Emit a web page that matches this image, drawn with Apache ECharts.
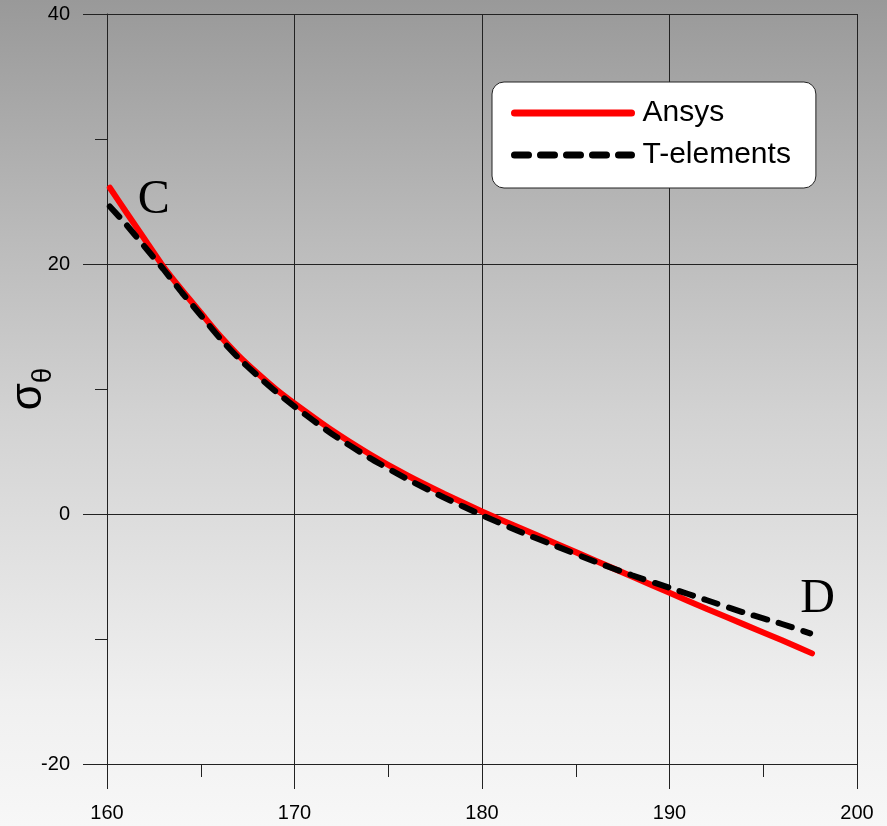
<!DOCTYPE html>
<html>
<head>
<meta charset="utf-8">
<script src="https://cdn.jsdelivr.net/npm/echarts@6/dist/echarts.min.js"></script>
<style>
    html, body { margin: 0; padding: 0; }
    #main { width: 887px; height: 826px; }
</style>
</head>
<body>
<div id="main"></div>
<script>
// 角度 / 应力 数据
var ansysX = [160.15, 161, 162, 163, 164, 165, 166, 167, 168, 169, 170, 172, 174, 176, 178, 180, 182, 184, 186, 188, 190, 192, 194, 196, 197.6];
var ansysY = [26.1, 24.2, 22.0, 19.8, 17.9, 16.1, 14.3, 12.7, 11.3, 10.0, 8.85, 6.7, 4.8, 3.1, 1.6, 0.2, -1.1, -2.4, -3.7, -5.0, -6.3, -7.6, -8.85, -10.1, -11.15];
var telX = [160.15, 161, 162, 163, 164, 165, 166, 167, 168, 169, 170, 172, 174, 176, 178, 180, 182, 184, 186, 188, 190, 192, 194, 196, 197.5];
var telY = [24.6, 23.2, 21.4, 19.6, 17.7, 15.9, 14.1, 12.5, 11.1, 9.8, 8.6, 6.4, 4.5, 2.8, 1.3, -0.1, -1.4, -2.6, -3.8, -4.9, -5.9, -6.9, -7.9, -8.8, -9.55];
var seriesNames = ['Ansys', 'T-elements'];
// 标注点 C / D
var notes = [{name: 'C', coord: [162.5, 25.1]}, {name: 'D', coord: [197.9, -6.85]}];

function pairs(xs, ys) {
    var out = [];
    for (var i = 0; i < xs.length; i++) {
        out.push([xs[i], ys[i]]);
    }
    return out;
}

var lineColor = '#222';
var chart = echarts.init(document.getElementById('main'));

chart.setOption({
    animation: false,
    backgroundColor: {
        type: 'linear', x: 0, y: 0, x2: 0, y2: 1,
        colorStops: [
            {offset: 0, color: '#999999'},
            {offset: 0.3, color: '#bcbcbc'},
            {offset: 0.5, color: '#d2d2d2'},
            {offset: 0.85, color: '#f0f0f0'},
            {offset: 1, color: '#f7f7f7'}
        ]
    },
    grid: {left: 107, top: 14, right: 30, bottom: 62, outerBoundsMode: 'none', containLabel: false},
    legend: {
        orient: 'vertical',
        left: 492,
        top: 82,
        data: seriesNames,
        backgroundColor: '#fff',
        borderColor: lineColor,
        borderWidth: 1,
        borderRadius: 12,
        padding: [16, 25, 18, 19],
        itemWidth: 117,
        itemHeight: 30,
        itemGap: 12,
        itemStyle: {opacity: 0},
        lineStyle: {width: 7, cap: 'round'},
        textStyle: {
            fontFamily: 'Liberation Sans, Arial',
            fontSize: 30,
            color: '#000',
            padding: [0, 0, 0, 6]
        }
    },
    xAxis: {
        type: 'value',
        min: 160,
        max: 200,
        interval: 10,
        axisLine: {onZero: false, lineStyle: {color: lineColor}},
        axisTick: {length: 25, lineStyle: {color: lineColor}},
        minorTick: {show: true, splitNumber: 2, length: 13, lineStyle: {color: lineColor}},
        splitLine: {show: true, lineStyle: {color: lineColor}},
        axisLabel: {
            margin: 39,
            color: '#000',
            fontSize: 20,
            fontFamily: 'Liberation Sans, Arial'
        }
    },
    yAxis: {
        type: 'value',
        min: -20,
        max: 40,
        interval: 20,
        name: '{s|σ}{t|θ}',
        nameLocation: 'middle',
        nameGap: 50,
        nameMoveOverlap: false,
        nameTextStyle: {
            rich: {
                s: {fontSize: 44, fontFamily: 'Liberation Sans, Arial', color: '#000', padding: [0, 0, 6, 0]},
                t: {fontSize: 28, fontFamily: 'Liberation Sans, Arial', color: '#000', verticalAlign: 'bottom'}
            }
        },
        axisLine: {show: true, onZero: false, lineStyle: {color: lineColor}},
        axisTick: {show: true, length: 24, lineStyle: {color: lineColor}},
        minorTick: {show: true, splitNumber: 2, length: 12, lineStyle: {color: lineColor}},
        splitLine: {show: true, lineStyle: {color: lineColor}},
        axisLabel: {
            margin: 37,
            color: '#000',
            fontSize: 20,
            fontFamily: 'Liberation Sans, Arial'
        }
    },
    series: [
        {
            name: seriesNames[0],
            type: 'line',
            data: pairs(ansysX, ansysY),
            symbol: 'none',
            smooth: 0.2,
            z: 2,
            lineStyle: {color: '#ff0000', width: 6, cap: 'round'},
            itemStyle: {color: '#ff0000'},
            markPoint: {
                symbol: 'circle',
                symbolSize: 0,
                label: {
                    show: true,
                    formatter: '{b}',
                    color: '#000',
                    fontSize: 48,
                    fontFamily: 'Liberation Serif, Times New Roman'
                },
                data: notes
            }
        },
        {
            name: seriesNames[1],
            type: 'line',
            data: pairs(telX, telY),
            symbol: 'none',
            smooth: 0.2,
            z: 3,
            lineStyle: {color: '#000', width: 6, type: [14, 12], cap: 'round'},
            itemStyle: {color: '#000'}
        }
    ]
});

window.onresize = function () {
    chart.resize();
};
</script>
</body>
</html>
